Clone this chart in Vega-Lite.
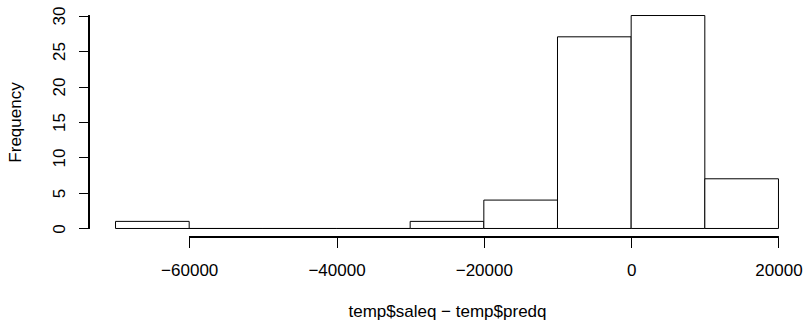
{
  "$schema": "https://vega.github.io/schema/vega-lite/v6.json",
  "autosize": {"type": "none"},
  "width": 716,
  "height": 230,
  "padding": {"left": 89, "top": 7, "right": 1, "bottom": 83},
  "background": "white",
  "config": {
    "view": {"stroke": null},
    "font": "Liberation Sans",
    "axis": {
      "domain": false,
      "grid": false,
      "labelFont": "Liberation Sans",
      "labelFontSize": 17,
      "labelColor": "black",
      "labelFlush": false,
      "labelOverlap": false,
      "tickColor": "black",
      "tickWidth": 1,
      "tickSize": 10.5,
      "titleFont": "Liberation Sans",
      "titleFontSize": 17,
      "titleFontWeight": "normal",
      "titleColor": "black"
    }
  },
  "resolve": {"axis": {"x": "independent", "y": "independent"}},
  "data": {
    "values": [
      {"bin_start": -70000, "bin_end": -60000, "count": 1},
      {"bin_start": -60000, "bin_end": -50000, "count": 0},
      {"bin_start": -50000, "bin_end": -40000, "count": 0},
      {"bin_start": -40000, "bin_end": -30000, "count": 0},
      {"bin_start": -30000, "bin_end": -20000, "count": 1},
      {"bin_start": -20000, "bin_end": -10000, "count": 4},
      {"bin_start": -10000, "bin_end": 0, "count": 27},
      {"bin_start": 0, "bin_end": 10000, "count": 30},
      {"bin_start": 10000, "bin_end": 20000, "count": 7}
    ]
  },
  "layer": [
    {
      "mark": {"type": "rect", "fill": "white", "stroke": "black", "strokeWidth": 1},
      "encoding": {
        "x": {
          "field": "bin_start",
          "type": "quantitative",
          "scale": {"domain": [-73600, 23600], "nice": false, "zero": false},
          "axis": {
            "title": "temp$saleq \u2212 temp$predq",
            "values": [-60000, -40000, -20000, 0, 20000],
            "format": "d",
            "labelBaseline": "alphabetic",
            "labelPadding": 28,
            "titleBaseline": "alphabetic",
            "titleY": 79.5
          }
        },
        "x2": {"field": "bin_end"},
        "y": {
          "field": "count",
          "type": "quantitative",
          "scale": {"domain": [-1.2, 31.2], "nice": false, "zero": false},
          "axis": {
            "title": "Frequency",
            "values": [0, 5, 10, 15, 20, 25, 30],
            "format": "d",
            "labelAngle": 270,
            "labelAlign": "center",
            "labelBaseline": "alphabetic",
            "labelPadding": 14,
            "titleAngle": 270,
            "titleBaseline": "alphabetic",
            "titleAlign": "center",
            "titleX": -68.7,
            "titleY": 115
          }
        },
        "y2": {"datum": 0}
      }
    },
    {
      "mark": {"type": "rule", "color": "black", "strokeWidth": 1},
      "encoding": {
        "x": {"datum": -60000, "axis": null},
        "x2": {"datum": 20000},
        "y": {"datum": -1.2, "axis": null}
      }
    },
    {
      "mark": {"type": "rule", "color": "black", "strokeWidth": 1},
      "encoding": {
        "x": {"datum": -73600, "axis": null},
        "y": {"datum": 0, "axis": null},
        "y2": {"datum": 30}
      }
    }
  ]
}
